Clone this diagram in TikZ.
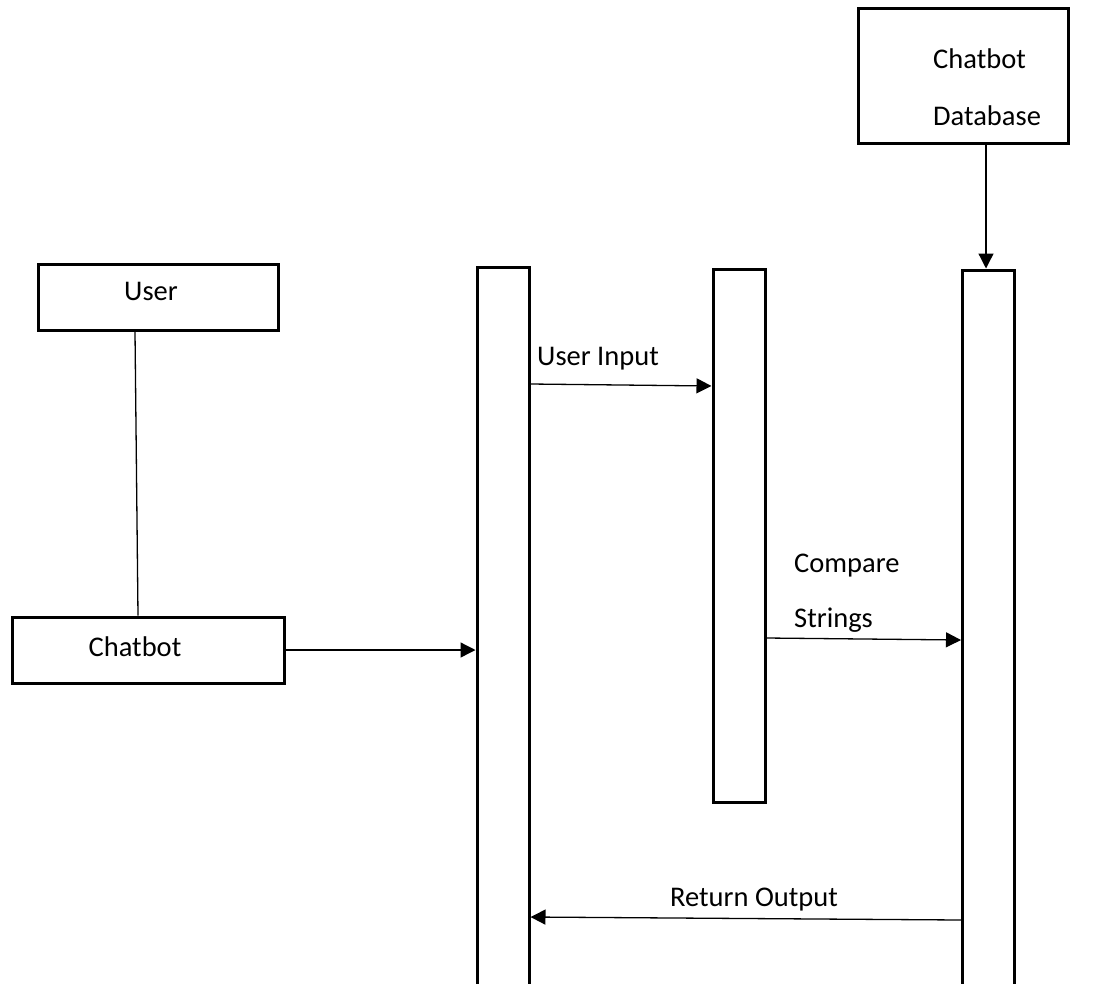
\documentclass[tikz,border=0pt]{standalone}
\usepackage{fontspec}
\setmainfont{Carlito}
\usetikzlibrary{arrows.meta}
\begin{document}
\begin{tikzpicture}[x=1pt,y=-1pt,
  box/.style={draw,line width=3pt,rectangle,inner sep=0pt},
  life/.style={draw,line width=3pt,rectangle,inner sep=0pt,minimum width=52pt},
  txt/.style={inner sep=0pt,font=\fontsize{28.5}{34}\selectfont},
  conn/.style={line width=1.3pt},
  arr/.style={conn,-{Triangle[length=15pt,width=15pt]}}]
\useasboundingbox (0,0) rectangle (1113,983);
% boxes
\node[box,minimum width=240pt,minimum height=66pt] (user) at (158,297) {};
\node[box,minimum width=272pt,minimum height=66pt] (chatbot) at (148,650) {};
\node[box,minimum width=210pt,minimum height=135pt] (db) at (963,75.5) {};
% lifelines
\node[life,minimum height=740pt] (l1) at (503,637) {};
\node[life,minimum height=533pt] (l2) at (739,535.5) {};
\node[life,minimum height=740pt] (l3) at (988.5,640) {};
% texts
\node[txt,anchor=base] (usertxt) at (151,300) {User};
\node[txt,anchor=base] (chattxt) at (135,656) {Chatbot};
\node[txt,anchor=base west] (dbt1) at (933,68) {Chatbot};
\node[txt,anchor=base west] (dbt2) at (933,125) {Database};
\node[txt,anchor=base west] (uin) at (537,365) {User Input};
\node[txt,anchor=base west] (cmp1) at (794,572) {Compare};
\node[txt,anchor=base west] (cmp2) at (794,627) {Strings};
\node[txt,anchor=base] (ret) at (754,906) {Return Output};
% connectors
\draw[conn] (user.south -| 135,0) -- (chatbot.north -| 138,0);
\draw[arr] (db.south -| 986,0) -- (l3.north -| 986,0);
\draw[arr] (chatbot.east |- 0,650) -- (l1.west |- 0,650);
\draw[arr] (l1.east |- 0,384) -- (l2.west |- 0,386);
\draw[arr] (l2.east |- 0,638) -- (l3.west |- 0,640);
\draw[arr] (l3.west |- 0,920) -- (l1.east |- 0,917);
\end{tikzpicture}
\end{document}
